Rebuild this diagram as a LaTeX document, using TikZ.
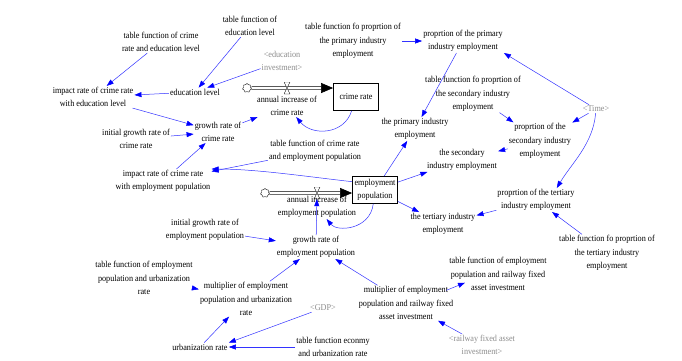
\documentclass[tikz,border=0pt]{standalone}
\usepackage{fontspec}
\setmainfont{Liberation Serif}[FakeStretch=0.91]
\usetikzlibrary{calc, backgrounds, arrows.meta, shapes.symbols}

\tikzset{
	var/.style={align=center, inner sep=1pt, font=\fontsize{9}{13.3}\selectfont},
	shadowvar/.style={var, text=black!45},
	stock/.style={var, draw, line width=0.8pt, minimum width=45pt, minimum height=27pt},
	link/.style={draw=blue!80, line width=0.5pt, -{Triangle[length=7pt,width=5pt,color=blue]}},
	pipe/.style={double, double distance=2pt, line width=0.6pt, -{Triangle[length=12pt,width=10pt,fill=black]}},
	source/.style={cloud, cloud puffs=7, draw, aspect=1, minimum width=9pt, minimum height=9pt, inner sep=0pt},
	valve/.style={minimum width=6pt, minimum height=12pt, inner sep=0pt,
		path picture={\draw[fill=white, line width=0.4pt] (path picture bounding box.north west) -- (path picture bounding box.north east) -- (path picture bounding box.south west) -- (path picture bounding box.south east) -- cycle;}}
}

\begin{document}
\begin{tikzpicture}[x=1pt, y=-1pt]
\useasboundingbox (0,0) rectangle (682,360);

\node[var] (tfce) at (161,42) {table function of crime\\rate and education level};
\node[var] (tfel) at (250,26) {table function of\\education level};
\node[shadowvar] (edinv) at (282,61) {<education\\investment>};
\node[var] (irce) at (93,97) {impact rate of crime rate\\with education level};
\node[var] (edl) at (195,92) {education level};
\node[source] (cl1) at (247,88) {};
\node[valve] (v1) at (287,88) {};
\node[var] (aicr) at (287,106) {annual increase of\\crime rate};
\node[stock] (crime) at (356,97) {crime rate};
\node[var] (grcr) at (218,132) {growth rate of\\crime rate};
\node[var] (igcr) at (136,139) {initial growth rate of\\crime rate};
\node[var] (irep) at (163,181) {impact rate of crime rate\\with employment population};
\node[var] (tfcep) at (315,151) {table function of crime rate\\and employment population};

\node[var] (tfp1) at (353,41) {table function fo proprtion of\\the primary industry\\employment};
\node[var] (pp1) at (463,41) {proprtion of the primary\\industry employment};
\node[var] (tfp2) at (473,94) {table function fo proprtion of\\the secondary industry\\employment};
\node[var] (pie1) at (415,129) {the primary industry\\employment};
\node[var] (pp2) at (540,141) {proprtion of the\\secondary industry\\employment};
\node[shadowvar] (time) at (596,109) {<Time>};
\node[var] (pie2) at (462,160) {the secondary\\industry employment};
\node[var] (pie3) at (443,224) {the tertiary industry\\employment};
\node[var] (pp3) at (536,200) {proprtion of the tertiary\\industry employment};
\node[var] (tfp3) at (607,253) {table function fo proprtion of\\the tertiary industry\\employment};

\node[source] (cl2) at (265,193) {};
\node[valve] (v2) at (317,193) {};
\node[stock] (emp) at (375,190) {employment\\population};
\node[var] (aiep) at (317,207) {annual increase of\\employment population};
\node[var] (igep) at (205,230) {initial growth rate of\\employment population};
\node[var] (grep) at (316,247) {growth rate of\\employment population};
\node[var] (tfur) at (144,278) {table function of employment\\population and urbanization\\rate};
\node[var] (mur) at (246,299) {multiplier of employment\\population and urbanization\\rate};
\node[shadowvar] (gdp) at (323,308) {<GDP>};
\node[var] (urb) at (200,347) {urbanization rate};
\node[var] (tfeu) at (333,347) {table function econmy\\and urbanization rate};
\node[var] (mrf) at (406,303) {multiplier of employment\\population and railway fixed\\asset investment};
\node[var] (tfrf) at (498,274) {table function of employment\\population and railway fixed\\asset investment};
\node[shadowvar] (rfai) at (482,345) {<railway fixed asset\\investment>};

\begin{scope}[on background layer]
\draw[pipe] (cl1) -- (cl1 -| crime.west);
\draw[pipe] (cl2) -- (cl2 -| emp.west);
\end{scope}

\foreach \a/\b in {tfce/irce, tfel/edl, edinv/edl, edl/irce, irce/grcr, igcr/grcr, irep/grcr, grcr/aicr, tfcep/irep, emp/pie1, emp/pie2, emp/pie3, grep/v2, igep/grep, mur/grep, mrf/grep, rfai/mrf, tfur/mur, urb/mur, tfeu/urb, tfp1/pp1, pp1/pie1, tfp2/pp2, time/pp2, pp2/pie2, pp3/pie3, tfp3/pp3}
	\draw[link] (\a) -- (\b);
\draw[link] (gdp) -- (urb.north east);
\draw[link] (time) -- (pp1.south east);
\draw[link] ($(mrf.north east)+(-8,5)$) -- ($(tfrf.south)+(-33,-9)$);
\draw[link] (crime) .. controls +(-12,38) and +(25,30) .. (aicr);
\draw[link] (emp) .. controls +(-5,40) and +(20,25) .. (aiep);
\draw[link] (emp.160) .. controls +(-45,-5) and +(45,0) .. (irep.north east);
\draw[link] (time) .. controls +(-3,35) and +(15,-25) .. (pp3.30);
\end{tikzpicture}
\end{document}
